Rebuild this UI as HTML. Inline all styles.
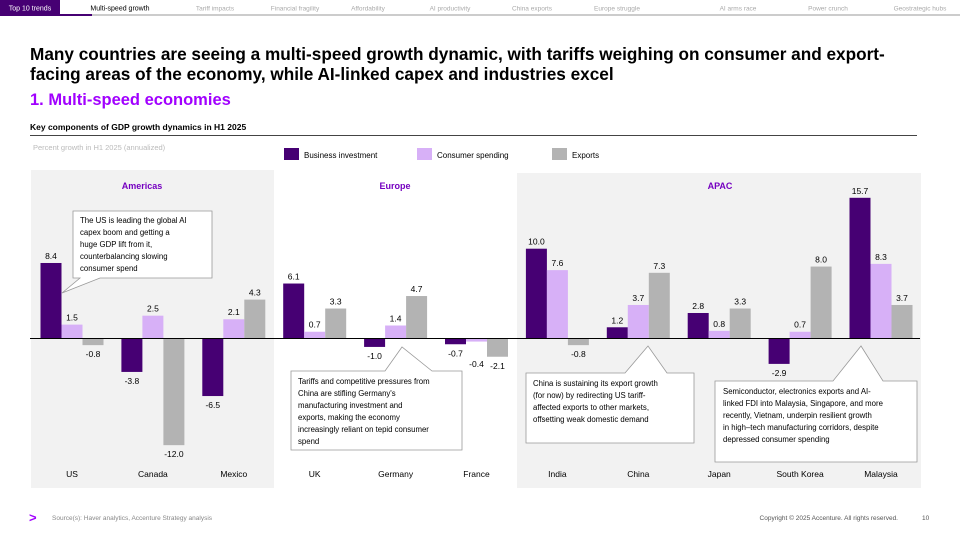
<!DOCTYPE html>
<html><head><meta charset="utf-8">
<style>
body{margin:0;width:960px;height:540px;overflow:hidden;background:#fff;font-family:"Liberation Sans",sans-serif;}
svg text{font-family:"Liberation Sans",sans-serif;}
</style></head>
<body>
<svg id="c" width="960" height="540" viewBox="0 0 960 540">
  <g>
    <rect x="0" y="14" width="960" height="2" fill="#ccc"/>
    <rect x="0" y="0" width="60" height="16" fill="#460073"/>
    <text x="30" y="10.5" font-size="7" fill="#fff" text-anchor="middle">Top 10 trends</text>
    <rect x="60" y="14" width="32" height="2" fill="#460073"/>
    <text x="120" y="10.5" font-size="7" fill="#000" text-anchor="middle">Multi-speed growth</text>
    <text x="215" y="10.5" font-size="6.5" fill="#aaa" text-anchor="middle">Tariff impacts</text>
    <text x="295" y="10.5" font-size="6.5" fill="#aaa" text-anchor="middle">Financial fragility</text>
    <text x="368" y="10.5" font-size="6.5" fill="#aaa" text-anchor="middle">Affordability</text>
    <text x="450" y="10.5" font-size="6.5" fill="#aaa" text-anchor="middle">AI productivity</text>
    <text x="532" y="10.5" font-size="6.5" fill="#aaa" text-anchor="middle">China exports</text>
    <text x="617" y="10.5" font-size="6.5" fill="#aaa" text-anchor="middle">Europe struggle</text>
    <text x="738" y="10.5" font-size="6.5" fill="#aaa" text-anchor="middle">AI arms race</text>
    <text x="828" y="10.5" font-size="6.5" fill="#aaa" text-anchor="middle">Power crunch</text>
    <text x="920" y="10.5" font-size="6.5" fill="#aaa" text-anchor="middle">Geostrategic hubs</text>
  </g>
  <text x="30" y="60" font-size="17.2" font-weight="bold" fill="#000">Many countries are seeing a multi-speed growth dynamic, with tariffs weighing on consumer and export-</text>
  <text x="30" y="80" font-size="17.2" font-weight="bold" fill="#000">facing areas of the economy, while AI-linked capex and industries excel</text>
  <text x="30" y="105" font-size="16.5" font-weight="bold" fill="#a100ff">1. Multi-speed economies</text>
  <text x="30" y="130" font-size="8.5" font-weight="bold" fill="#000">Key components of GDP growth dynamics in H1 2025</text>
  <rect x="30" y="135" width="887" height="1" fill="#444"/>
  <text x="33" y="150" font-size="7.5" fill="#bbb">Percent growth in H1 2025 (annualized)</text>
  <rect x="31" y="170" width="243" height="318" fill="#f2f2f2"/>
  <rect x="517" y="173" width="404" height="315" fill="#f2f2f2"/>
  <text x="142" y="189" font-size="9" font-weight="bold" fill="#7500c0" text-anchor="middle">Americas</text>
  <text x="395" y="189" font-size="9" font-weight="bold" fill="#7500c0" text-anchor="middle">Europe</text>
  <text x="720" y="189" font-size="9" font-weight="bold" fill="#7500c0" text-anchor="middle">APAC</text>
  <g>
    <rect x="284" y="148" width="15" height="12" fill="#460073"/>
    <text x="304" y="158" font-size="8" fill="#000">Business investment</text>
    <rect x="417" y="148" width="15" height="12" fill="#d7b0f7"/>
    <text x="437" y="158" font-size="8" fill="#000">Consumer spending</text>
    <rect x="552" y="148" width="15" height="12" fill="#b3b3b3"/>
    <text x="572" y="158" font-size="8" fill="#000">Exports</text>
  </g>
  <g id="bars"></g>
  <rect x="30" y="338" width="890" height="1" fill="#000"/>
  <g>
    <path d="M73,211 H212 V278 H100 L62,293 L80,278 H73 Z" fill="#fff" stroke="#999" stroke-width="0.8"/>
    <text font-size="7.8" fill="#000"><tspan x="80" y="223">The US is leading the global AI</tspan><tspan x="80" y="235">capex boom and getting a</tspan><tspan x="80" y="247">huge GDP lift from it,</tspan><tspan x="80" y="259">counterbalancing slowing</tspan><tspan x="80" y="271">consumer spend</tspan></text>
  </g>
  <g>
    <path d="M291,371 H385 L402,347 L432,371 H462 V450 H291 Z" fill="#fff" stroke="#999" stroke-width="0.8"/>
    <text font-size="7.8" fill="#000"><tspan x="298" y="384">Tariffs and competitive pressures from</tspan><tspan x="298" y="396">China are stifling Germany's</tspan><tspan x="298" y="408">manufacturing investment and</tspan><tspan x="298" y="420">exports, making the economy</tspan><tspan x="298" y="432">increasingly reliant on tepid consumer</tspan><tspan x="298" y="444">spend</tspan></text>
  </g>
  <g>
    <path d="M526,373 H625 L648,346 L667,373 H694 V443 H526 Z" fill="#fff" stroke="#999" stroke-width="0.8"/>
    <text font-size="7.8" fill="#000"><tspan x="533" y="386">China is sustaining its export growth</tspan><tspan x="533" y="398">(for now) by redirecting US tariff-</tspan><tspan x="533" y="410">affected exports to other markets,</tspan><tspan x="533" y="422">offsetting weak domestic demand</tspan></text>
  </g>
  <g>
    <path d="M715,381 H833 L861,346 L883,381 H917 V462 H715 Z" fill="#fff" stroke="#999" stroke-width="0.8"/>
    <text font-size="7.8" fill="#000"><tspan x="723" y="394">Semiconductor, electronics exports and AI-</tspan><tspan x="723" y="406">linked FDI into Malaysia, Singapore, and more</tspan><tspan x="723" y="418">recently, Vietnam, underpin resilient growth</tspan><tspan x="723" y="430">in high–tech manufacturing corridors, despite</tspan><tspan x="723" y="442">depressed consumer spending</tspan></text>
  </g>
  <text x="29" y="522" font-size="13" font-weight="bold" fill="#a100ff">&gt;</text>
  <text x="52" y="520" font-size="6.5" fill="#888">Source(s): Haver analytics, Accenture Strategy analysis</text>
  <text x="898" y="520" font-size="6.5" fill="#555" text-anchor="end">Copyright © 2025 Accenture. All rights reserved.</text>
  <text x="922" y="520" font-size="6.5" fill="#555">10</text>
</svg>
<script>
const countries = ["US","Canada","Mexico","UK","Germany","France","India","China","Japan","South Korea","Malaysia"];
const business = [8.4,-3.8,-6.5,6.1,-1.0,-0.7,10.0,1.2,2.8,-2.9,15.7];
const consumer = [1.5,2.5,2.1,0.7,1.4,-0.4,7.6,3.7,0.8,0.7,8.3];
const exportsV = [-0.8,-12.0,4.3,3.3,4.7,-2.1,-0.8,7.3,3.3,8.0,3.7];
const seriesNames = ["business","consumer","exports"];
const seriesColors = ["#460073","#d7b0f7","#b3b3b3"];

const NS = "http://www.w3.org/2000/svg";
const y0 = 338, pxPerUnit = 8.93;
const yScale = v => y0 - v * pxPerUnit;
const xCenter = i => 72 + i * 80.9;
const barW = 21;
const g = document.getElementById("bars");
const all = [business, consumer, exportsV];
countries.forEach((c, i) => {
  all.forEach((arr, s) => {
    const v = arr[i];
    const x = xCenter(i) + (s - 1) * barW - barW / 2;
    const top = Math.min(yScale(v), y0), h = Math.abs(yScale(v) - y0);
    const r = document.createElementNS(NS, "rect");
    r.setAttribute("x", x); r.setAttribute("y", top);
    r.setAttribute("width", barW); r.setAttribute("height", Math.max(h, 0.5));
    r.setAttribute("fill", seriesColors[s]);
    
    
    g.appendChild(r);
    const t = document.createElementNS(NS, "text");
    let ty = v >= 0 ? yScale(v) - 4 : yScale(v) + 12;
    let tx = x + barW / 2;
    if (v < 0 && h < 6) { ty = y0 + 29; }
    t.setAttribute("x", tx); t.setAttribute("y", ty);
    t.setAttribute("font-size", "8.5"); t.setAttribute("text-anchor", "middle"); t.setAttribute("fill", "#000");
    t.textContent = v.toFixed(1);
    
    
    g.appendChild(t);
  });
  const lab = document.createElementNS(NS, "text");
  lab.setAttribute("x", xCenter(i)); lab.setAttribute("y", 477);
  lab.setAttribute("font-size", "8.5"); lab.setAttribute("text-anchor", "middle"); lab.setAttribute("fill", "#000");
  lab.textContent = c;
  
  
  g.appendChild(lab);
});
</script>
</body></html>
